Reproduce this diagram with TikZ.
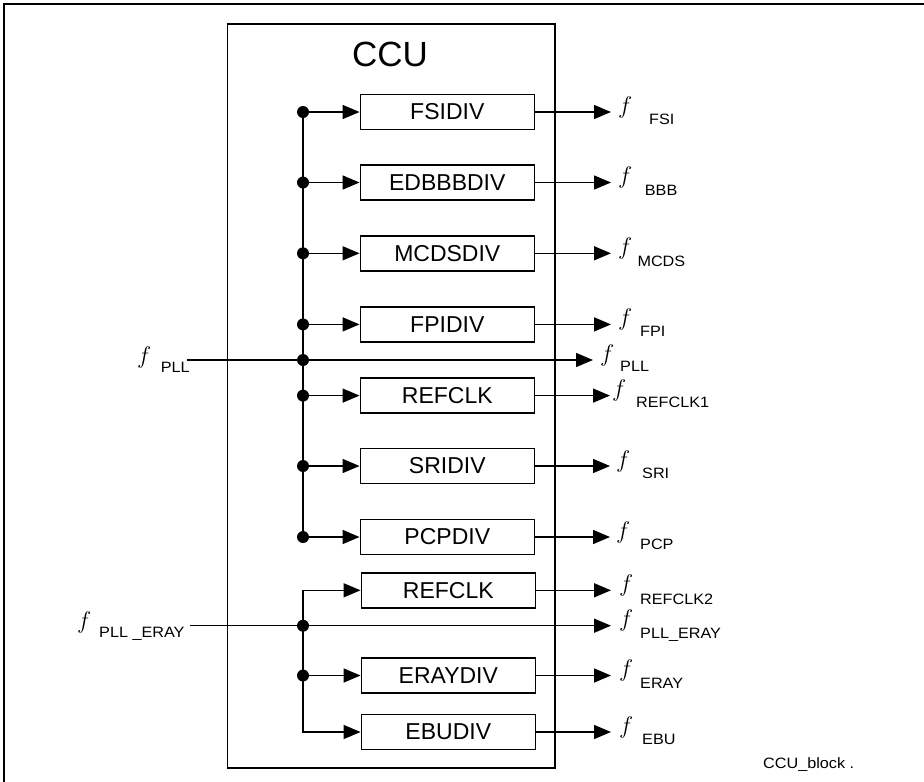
\documentclass[tikz,border=0pt]{standalone}
\usepackage{fontspec}
\usepackage{fix-cm}
\setmainfont{Liberation Sans}
\newfontfamily\subfont[FakeStretch=1.08]{Liberation Sans}
\usetikzlibrary{arrows.meta}
\begin{document}
\begin{tikzpicture}[x=1pt,y=-1pt,
  ln/.style={line width=1.5pt},
  arr/.style={ln,-{Triangle[length=17pt,width=14pt]}},
  divbox/.style={draw,line width=1.5pt,minimum width=174pt,minimum height=35pt,inner sep=0pt,font=\fontsize{23}{23}\selectfont},
  dot/.style={circle,fill,inner sep=0pt,minimum size=12pt},
  fsym/.style={inner sep=0pt,anchor=base west,font=\fontsize{24}{24}\selectfont},
  fsub/.style={inner sep=0pt,anchor=base west,font=\fontsize{15}{15}\selectfont\subfont}]
\useasboundingbox (0,0) rectangle (924,782);
% outer frame (top and left)
\coordinate (fr1) at (4.3,782);
\coordinate (fr2) at (4.3,4.3);
\coordinate (fr3) at (924,4.3);
\draw[line width=2pt] (fr1) -- (fr2) -- (fr3);
% CCU box
\node[draw,line width=1.5pt,minimum width=327.8pt,minimum height=744.3pt,inner sep=0pt,anchor=north west] (ccu) at (226.5,23) {};
\node[anchor=base,inner sep=0pt,font=\fontsize{35}{35}\selectfont] (ccut) at (390,66.7) {CCU};
% upper divider boxes
\node[divbox] (fsidiv) at (447.3,112) {FSIDIV};
\node[divbox] (edbdiv) at (447.3,182.5) {EDBBBDIV};
\node[divbox] (mcddiv) at (447.3,253.3) {MCDSDIV};
\node[divbox] (fpidiv) at (447.3,324.4) {FPIDIV};
\node[divbox] (refdiv) at (447.3,395.6) {REFCLK};
\node[divbox] (sridiv) at (447.3,466) {SRIDIV};
\node[divbox] (pcpdiv) at (447.3,537) {PCPDIV};
% lower divider boxes
\node[divbox] (ref2div) at (448.3,590.3) {REFCLK};
\node[divbox] (eradiv) at (448.3,675.5) {ERAYDIV};
\node[divbox] (ebudiv) at (448.3,732) {EBUDIV};
% dots upper bus
\node[dot] (d1) at (303,112) {};
\node[dot] (d2) at (303,182.5) {};
\node[dot] (d3) at (303,253.3) {};
\node[dot] (d4) at (303,324.4) {};
\node[dot] (dp) at (303,360) {};
\node[dot] (d5) at (303,395.6) {};
\node[dot] (d6) at (303,466) {};
\node[dot] (d7) at (303,537) {};
\draw[ln] (d1.center) -- (d7.center);
\foreach \d/\b in {d1/fsidiv,d2/edbdiv,d3/mcddiv,d4/fpidiv,d5/refdiv,d6/sridiv,d7/pcpdiv}
  \draw[arr] (\d.center) -- (\b.west);
% lower bus
\node[dot] (de) at (303,625.7) {};
\node[dot] (df) at (303,675.5) {};
\draw[arr] (de.center) |- (ref2div.west);
\draw[arr] (de.center) |- (ebudiv.west);
\draw[arr] (df.center) -- (eradiv.west);
% output end points
\coordinate (o1) at (611,112);
\coordinate (o2) at (611,182.5);
\coordinate (o3) at (611,253.3);
\coordinate (o4) at (611,324.4);
\coordinate (o5) at (610,395.6);
\coordinate (o6) at (610,466);
\coordinate (o7) at (610,537);
\coordinate (o8) at (611,590.3);
\coordinate (o9) at (611,675.5);
\coordinate (o10) at (611,732);
\foreach \b/\o in {fsidiv/o1,edbdiv/o2,mcddiv/o3,fpidiv/o4,refdiv/o5,sridiv/o6,pcpdiv/o7,ref2div/o8,eradiv/o9,ebudiv/o10}
  \draw[arr] (\b.east) -- (\o);
% f_PLL pass-through
\coordinate (pllin) at (187,360);
\coordinate (pllout) at (593,360);
\draw[arr] (pllin) -- (pllout);
% f_PLL_ERAY pass-through
\coordinate (erin) at (190,625.7);
\coordinate (erout) at (611,625.7);
\draw[arr] (erin) -- (erout);
% input labels
\node[fsym] (fpin) at (137,363.6) {$f$};
\node[fsub] (spin) at (160.7,372) {PLL};
\node[fsym] (fein) at (77,628.6) {$f$};
\node[fsub] (sein) at (99,637.8) {PLL \_ERAY};
% output labels
\node[fsym] (f1) at (618,113) {$f$};   \node[fsub] (s1) at (649,124.5) {FSI};
\node[fsym] (f2) at (618,183.5) {$f$}; \node[fsub] (s2) at (644.7,195.5) {BBB};
\node[fsym] (f3) at (618,254.3) {$f$}; \node[fsub] (s3) at (637.3,266.7) {MCDS};
\node[fsym] (f4) at (618,325.4) {$f$}; \node[fsub] (s4) at (640,336.7) {FPI};
\node[fsym] (fp) at (600,361) {$f$};   \node[fsub] (sp) at (620,371.7) {PLL};
\node[fsym] (f5) at (612,396.6) {$f$}; \node[fsub] (s5) at (636,407.7) {REFCLK1};
\node[fsym] (f6) at (616,467) {$f$};   \node[fsub] (s6) at (642,478.3) {SRI};
\node[fsym] (f7) at (616,538) {$f$};   \node[fsub] (s7) at (640,549.3) {PCP};
\node[fsym] (f8) at (619,591.3) {$f$}; \node[fsub] (s8) at (640,604.3) {REFCLK2};
\node[fsym] (fe) at (619,626.7) {$f$}; \node[fsub] (se) at (640,638.3) {PLL\_ERAY};
\node[fsym] (f9) at (619,676.5) {$f$}; \node[fsub] (s9) at (640,688.3) {ERAY};
\node[fsym] (f10) at (619,733) {$f$}; \node[fsub] (s10) at (642,744.3) {EBU};
% tag
\node[fsub] (tag) at (763,768.3) {CCU\_block .};
\end{tikzpicture}
\end{document}
